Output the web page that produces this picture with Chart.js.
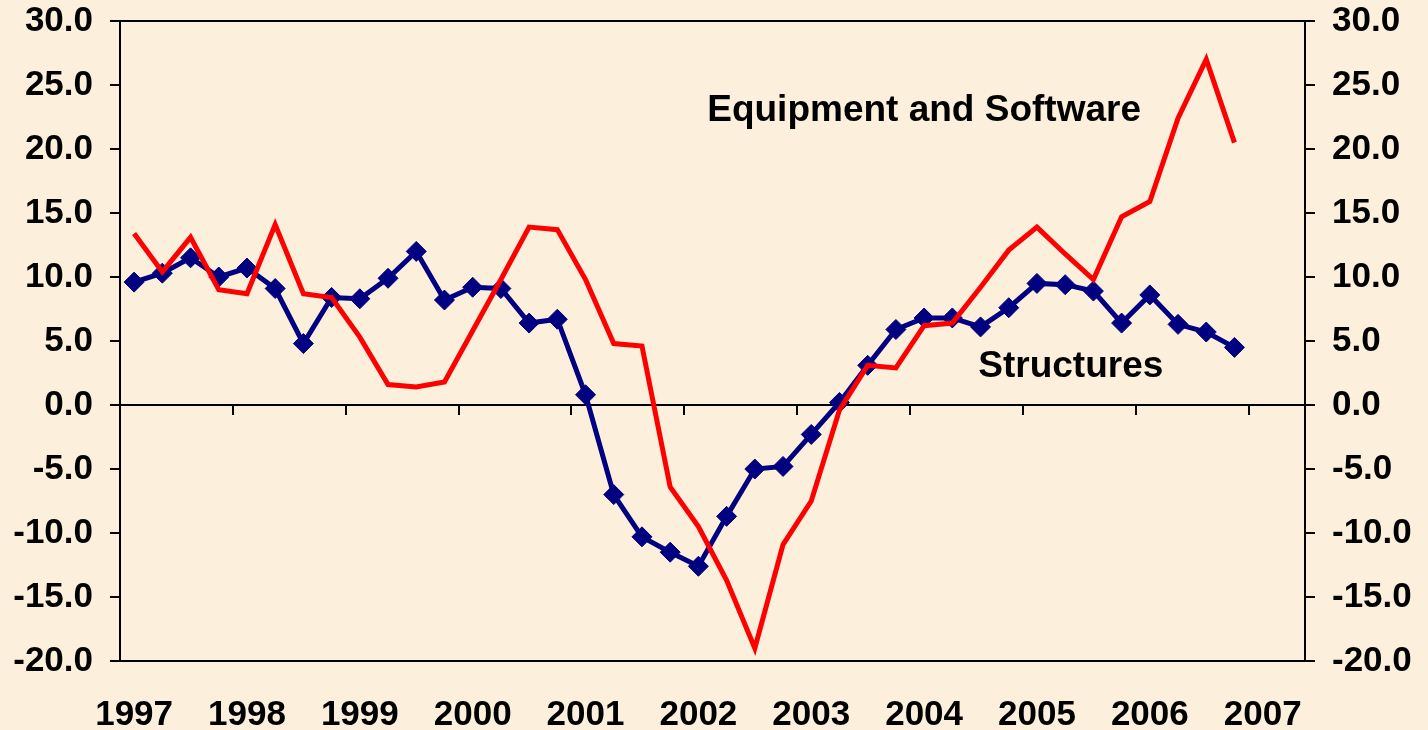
<!DOCTYPE html>
<html lang="en">
<head>
<meta charset="UTF-8">
<title>Equipment and Software vs Structures</title>
<script src="https://cdn.jsdelivr.net/npm/chart.js"></script>
<style>
    body {
        margin: 0;
        background: #fcf0dc;
        font-family: Arial, "Liberation Sans", sans-serif;
    }
    #wrap {
        position: relative;
        width: 1428px;
        height: 730px;
    }
</style>
</head>
<body>
<div id="wrap"><canvas id="chart"></canvas></div>
<script>
    // quarterly categories, 1997Q1 .. 2007Q2
    const years = ['1997', '1998', '1999', '2000', '2001', '2002', '2003', '2004', '2005', '2006', '2007'];
    const quarterNames = ['Q1', 'Q2', 'Q3', 'Q4'];
    const categories = [];
    years.forEach(y => quarterNames.forEach(q => categories.push(y + q)));
    categories.length = 42;

    // y axis ticks
    const yMin = -20, yMax = 30, yStep = 5;

    // % change, 1997Q1 .. 2006Q4
    const equipmentSoftware = [
        13.4, 10.4, 13.1, 9.0, 8.7, 14.1, 8.7, 8.4,
        5.3, 1.6, 1.4, 1.8, 5.8, 9.8, 13.9, 13.7,
        9.8, 4.8, 4.6, -6.4, -9.5, -13.7, -19.0, -10.9,
        -7.5, -0.4, 3.1, 2.9, 6.2, 6.4, 9.2, 12.1,
        13.9, 11.8, 9.8, 14.7, 15.9, 22.4, 27.0, 20.5
    ];
    const structures = [
        9.6, 10.3, 11.5, 10.0, 10.7, 9.1, 4.8, 8.4,
        8.3, 9.9, 12.0, 8.2, 9.2, 9.1, 6.4, 6.7,
        0.8, -7.0, -10.3, -11.5, -12.6, -8.7, -5.0, -4.8,
        -2.3, 0.2, 3.1, 5.9, 6.8, 6.8, 6.1, 7.6,
        9.5, 9.4, 8.9, 6.4, 8.6, 6.3, 5.7, 4.5
    ];

    // series labels placed at (category index, value)
    const seriesNotes = [
        { text: 'Equipment and Software', at: 28, value: 23.0 },
        { text: 'Structures', at: 33.2, value: 3.0 }
    ];

    const FONT = 'Arial, "Liberation Sans", sans-serif';

    // zero line with year tick marks, top frame, series labels
    const framePlugin = {
        id: 'frame',
        beforeDatasetsDraw(chart) {
            const { ctx, chartArea, scales } = chart;
            const x = scales.x, y = scales.y;
            const y0 = y.getPixelForValue(0);
            const half = (x.getPixelForValue(1) - x.getPixelForValue(0)) / 2;
            ctx.save();
            ctx.strokeStyle = '#000';
            ctx.lineWidth = 2;
            ctx.beginPath();
            ctx.moveTo(chartArea.left, chartArea.top);
            ctx.lineTo(chartArea.right, chartArea.top);
            ctx.moveTo(chartArea.left, y0);
            ctx.lineTo(chartArea.right, y0);
            for (let i = 0; i < categories.length; i += 4) {
                const px = Math.round(x.getPixelForValue(i) - half);
                ctx.moveTo(px, y0);
                ctx.lineTo(px, y0 + 10);
            }
            ctx.stroke();
            ctx.restore();
        },
        afterDatasetsDraw(chart) {
            const { ctx, scales } = chart;
            ctx.save();
            ctx.fillStyle = '#000';
            ctx.font = 'bold 37px ' + FONT;
            ctx.textAlign = 'center';
            ctx.textBaseline = 'middle';
            seriesNotes.forEach(n => {
                ctx.fillText(n.text, scales.x.getPixelForValue(n.at), scales.y.getPixelForValue(n.value));
            });
            ctx.restore();
        }
    };

    const yAxis = (pos, width) => ({
        position: pos,
        min: yMin,
        max: yMax,
        ticks: {
            stepSize: yStep,
            color: '#000',
            padding: 17,
            font: { family: FONT, size: 35, weight: 'bold' },
            callback: v => v.toFixed(1)
        },
        grid: {
            drawOnChartArea: false,
            drawTicks: true,
            tickLength: 10,
            color: '#000',
            lineWidth: 2
        },
        border: { display: true, color: '#000', width: 2 },
        afterFit: s => {
            s.width = width;
            s.paddingTop = 0;
            s.paddingBottom = 0;
        }
    });

    new Chart(document.getElementById('chart'), {
        type: 'line',
        data: {
            labels: categories,
            datasets: [
                {
                    label: 'Equipment and Software',
                    data: equipmentSoftware,
                    borderColor: '#ff0000',
                    borderWidth: 5,
                    pointRadius: 0,
                    tension: 0,
                    yAxisID: 'y'
                },
                {
                    label: 'Structures',
                    data: structures,
                    borderColor: '#000080',
                    backgroundColor: '#000080',
                    borderWidth: 5,
                    pointStyle: 'rectRot',
                    pointRadius: 10,
                    pointBorderWidth: 1,
                    pointBackgroundColor: '#000080',
                    pointBorderColor: '#000080',
                    tension: 0,
                    yAxisID: 'y'
                }
            ]
        },
        options: {
            responsive: true,
            maintainAspectRatio: false,
            animation: false,
            layout: { padding: { top: 21, left: 0, right: 0, bottom: 0 } },
            plugins: {
                legend: { display: false },
                tooltip: { enabled: false }
            },
            scales: {
                x: {
                    offset: true,
                    grid: { display: false, drawTicks: false },
                    border: { display: true, color: '#000', width: 2 },
                    ticks: {
                        autoSkip: false,
                        maxRotation: 0,
                        padding: 33,
                        color: '#000',
                        font: { family: FONT, size: 35, weight: 'bold' },
                        callback: (v, i) => i % 4 === 0 ? categories[i].slice(0, 4) : ''
                    },
                    afterFit: s => { s.height = 69; }
                },
                y: yAxis('left', 120),
                y2: yAxis('right', 123)
            }
        },
        plugins: [framePlugin]
    });
</script>
</body>
</html>
